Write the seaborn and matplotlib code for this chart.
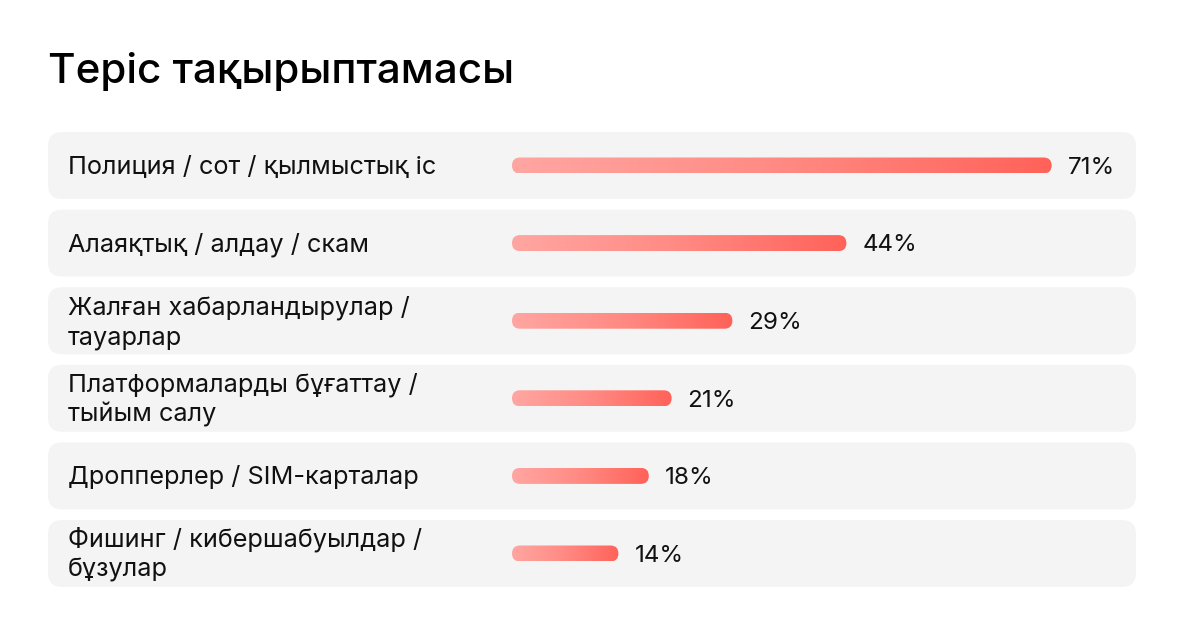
import numpy as np
import pandas as pd
import matplotlib
matplotlib.use("Agg")
import matplotlib.pyplot as plt
from matplotlib.patches import FancyBboxPatch
from matplotlib.colors import LinearSegmentedColormap
import seaborn as sns

# ---- data ----
title = "Теріс тақырыптамасы"
categories = [
    "Полиция / сот / қылмыстық іс",
    "Алаяқтық / алдау / скам",
    "Жалған хабарландырулар /\nтауарлар",
    "Платформаларды бұғаттау /\nтыйым салу",
    "Дропперлер / SIM-карталар",
    "Фишинг / кибершабуылдар /\nбұзулар",
]
values = [71, 44, 29, 21, 18, 14]

df = pd.DataFrame({"category": categories, "value": values})

sns.set_theme(style="white")
plt.rcParams["font.family"] = ["Inter", "DejaVu Sans"]

W, H = 1184, 636
fig = plt.figure(figsize=(W / 100, H / 100), dpi=100)
fig.patch.set_facecolor("white")

# layout in pixels
row_pitch = 77.6
row_h = 67.0
first_center = 165.5
n = len(categories)
top_px = first_center - row_pitch / 2
bot_px = first_center + row_pitch * (n - 1) + row_pitch / 2
left_px, right_px = 48, 1136
bar_x0_px = 512
px_per_unit = 7.6  # pixels per percentage point

ax = fig.add_axes([left_px / W, 1 - bot_px / H, (right_px - left_px) / W, (bot_px - top_px) / H])

xmin = (left_px - bar_x0_px) / px_per_unit
xmax = (right_px - bar_x0_px) / px_per_unit
bar_h = 16 / row_pitch

sns.barplot(data=df, x="value", y="category", orient="h", width=bar_h, ax=ax,
            color="#FF6259", saturation=1, errorbar=None)

ax.set_xlim(xmin, xmax)
ax.set_ylim(n - 0.5, -0.5)
ax.axis("off")

aspect = px_per_unit / row_pitch
cmap = LinearSegmentedColormap.from_list("grad", ["#FFA6A2", "#FF8A83", "#FF6259"])
grad = np.linspace(0, 1, 256).reshape(1, -1)

bars = list(ax.patches)

# row backgrounds
for i in range(n):
    bg_h = row_h / row_pitch
    bg = FancyBboxPatch((xmin, i - bg_h / 2), xmax - xmin, bg_h,
                        boxstyle=f"round,pad=0,rounding_size={14 / px_per_unit}",
                        mutation_aspect=aspect, facecolor="#F4F4F4", edgecolor="none",
                        zorder=0)
    ax.add_patch(bg)

text_color = "#111111"
fs_label = 18.2
fs_pct = 17.4
line_gap_px = 30.0
for p, cat, v in zip(bars, categories, values):
    x0, y0, w, h = p.get_x(), p.get_y(), p.get_width(), p.get_height()
    yc = y0 + h / 2
    p.set_visible(False)
    shape = FancyBboxPatch((x0, y0), w, h,
                           boxstyle=f"round,pad=0,rounding_size={8 / px_per_unit}",
                           mutation_aspect=aspect, facecolor="none", edgecolor="none",
                           transform=ax.transData, zorder=2)
    ax.add_patch(shape)
    im = ax.imshow(grad, cmap=cmap, aspect="auto", extent=[x0, x0 + w, y0 + h, y0],
                   interpolation="bilinear", zorder=3)
    im.set_clip_path(shape)
    ax.text(x0 + w + 16 / px_per_unit, yc + 8.3 / row_pitch, f"{v}%", ha="left",
            va="baseline", fontsize=fs_pct, color=text_color, zorder=4)
    lines = cat.split("\n")
    L = len(lines)
    for k, line in enumerate(lines):
        base = yc + (8.5 + (k - (L - 1) / 2) * line_gap_px) / row_pitch
        ax.text(xmin + 20 / px_per_unit, base, line, ha="left", va="baseline",
                fontsize=fs_label, color=text_color, zorder=4)

ax.set_xlim(xmin, xmax)
ax.set_ylim(n - 0.5, -0.5)

fig.text(48 / W, 1 - 83.0 / H, title, ha="left", va="baseline", fontsize=30.4,
         fontweight="medium", color="#000000")

fig.savefig("out.png", dpi=100, facecolor="white")
